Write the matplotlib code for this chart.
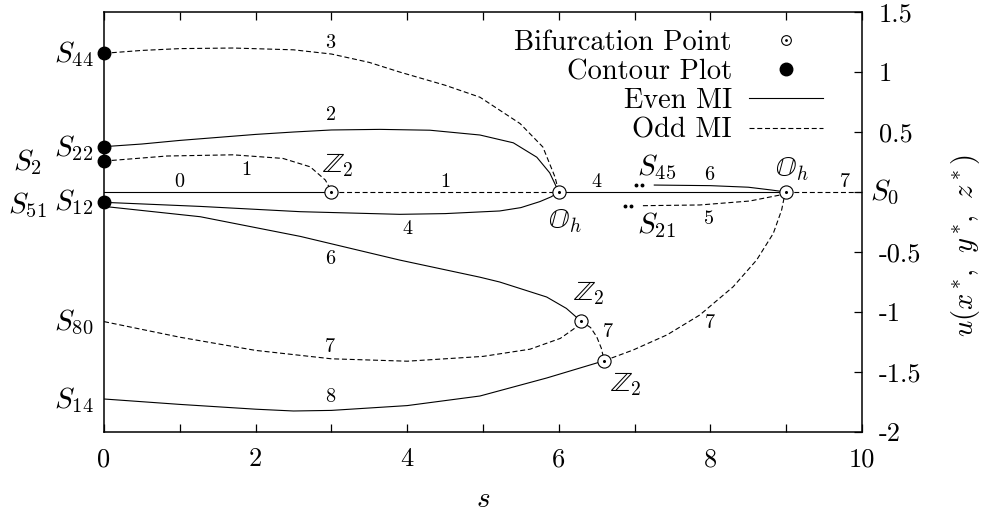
import matplotlib

matplotlib.use("Agg")
import matplotlib.pyplot as plt
from matplotlib.legend_handler import HandlerTuple
from matplotlib.lines import Line2D
from matplotlib.ticker import FixedLocator, FixedFormatter

plt.rcParams["font.family"] = ["cmr10", "DejaVu Serif"]
plt.rcParams["mathtext.fontset"] = "cm"
plt.rcParams["axes.unicode_minus"] = False

# trivial branch u = 0, split at bifurcation points
trivial_s = [0, 3, 6, 9, 10]
trivial_mi = [0, 1, 4, 7]

# branches (s, u)
b3_s = [0, 0.5, 1.0, 1.7, 2.5, 3.0, 3.5, 3.9, 4.5, 4.96, 5.49, 5.79, 5.95, 6.0]
b3_u = [1.156, 1.18, 1.195, 1.20, 1.185, 1.15, 1.08, 1.0, 0.89, 0.79, 0.57, 0.375, 0.125, 0.0]

b2_s = [0, 0.5, 1.0, 1.5, 2.0, 2.5, 3.0, 3.64, 4.3, 4.96, 5.4, 5.71, 5.88, 5.97, 6.0]
b2_u = [0.378, 0.40, 0.43, 0.455, 0.48, 0.50, 0.517, 0.522, 0.515, 0.475, 0.41, 0.29, 0.16, 0.04, 0.0]

b1_s = [0, 0.83, 1.70, 2.36, 2.72, 2.92, 2.98, 3.0]
b1_u = [0.258, 0.30, 0.31, 0.28, 0.21, 0.10, 0.03, 0.0]

b4_s = [0, 1.27, 2.59, 3.9, 4.5, 5.22, 5.5, 5.75, 5.9, 6.0]
b4_u = [-0.086, -0.12, -0.164, -0.186, -0.18, -0.158, -0.13, -0.08, -0.04, 0.0]

b6_s = [0, 1.27, 2.59, 3.9, 4.96, 5.22, 5.84, 6.1, 6.29]
b6_u = [-0.12, -0.206, -0.37, -0.567, -0.71, -0.75, -0.875, -0.97, -1.075]

b7a_s = [0, 1.0, 2.0, 3.0, 4.0, 5.0, 5.62, 6.02, 6.2, 6.29]
b7a_u = [-1.08, -1.21, -1.32, -1.39, -1.41, -1.37, -1.31, -1.22, -1.14, -1.075]

b7b_s = [6.29, 6.42, 6.50, 6.56, 6.60]
b7b_u = [-1.075, -1.13, -1.206, -1.30, -1.406]

b8_s = [0, 1.0, 2.0, 2.5, 3.0, 4.0, 4.96, 5.84, 6.60]
b8_u = [-1.725, -1.77, -1.81, -1.825, -1.82, -1.78, -1.70, -1.55, -1.406]

b7c_s = [6.60, 6.98, 7.43, 7.86, 8.30, 8.61, 8.83, 8.94, 8.98, 9.0]
b7c_u = [-1.406, -1.317, -1.19, -1.025, -0.79, -0.567, -0.345, -0.15, -0.025, 0.0]

b6r_s = [7.26, 8.0, 8.5, 8.8, 9.0]
b6r_u = [0.058, 0.053, 0.04, 0.017, 0.0]

b5_s = [7.11, 7.86, 8.52, 8.92, 9.0]
b5_u = [-0.114, -0.108, -0.075, -0.025, 0.0]

# continuation dots near S45 / S21
dots_s = [7.02, 7.10, 6.87, 6.95]
dots_u = [0.058, 0.058, -0.12, -0.12]

bif_s = [3, 6, 9, 6.29, 6.60]
bif_u = [0, 0, 0, -1.075, -1.406]

contour_u = [1.156, 0.378, 0.258, -0.08]

# labels: (s, u, text, ha)
solution_labels = [
    (-0.14, 1.146, r"$S_{44}$", "right"),
    (-0.14, 0.37, r"$S_{22}$", "right"),
    (-0.82, 0.246, r"$S_{2}$", "right"),
    (-0.14, -0.08, r"$S_{12}$", "right"),
    (-0.75, -0.115, r"$S_{51}$", "right"),
    (-0.14, -1.09, r"$S_{80}$", "right"),
    (-0.14, -1.73, r"$S_{14}$", "right"),
    (10.1, 0.0, r"$S_{0}$", "left"),
    (7.03, 0.204, r"$S_{45}$", "left"),
    (7.03, -0.275, r"$S_{21}$", "left"),
]
symmetry_labels = [
    (3.09, 0.225, r"$\mathbb{Z}_2$"),
    (6.08, -0.246, r"$\mathbb{O}_h$"),
    (9.08, 0.19, r"$\mathbb{O}_h$"),
    (6.39, -0.846, r"$\mathbb{Z}_2$"),
    (6.89, -1.604, r"$\mathbb{Z}_2$"),
]
mi_labels = [
    (0.99, 0.086, "0"), (1.88, 0.18, "1"), (2.99, 1.24, "3"), (2.99, 0.64, "2"),
    (4.5, 0.086, "1"), (4.0, -0.31, "4"), (6.5, 0.086, "4"), (7.99, 0.14, "6"),
    (7.98, -0.225, "5"), (9.78, 0.086, "7"), (2.99, -0.56, "6"), (2.98, -1.29, "7"),
    (2.98, -1.706, "8"), (6.65, -1.17, "7"), (7.99, -1.09, "7"),
]

x_ticks = list(range(0, 11))
x_ticklabels = ["0", "", "2", "", "4", "", "6", "", "8", "", "10"]
y_ticks = [-2, -1.5, -1, -0.5, 0, 0.5, 1, 1.5]
y_ticklabels = ["-2", "-1.5", "-1", "-0.5", "", "0.5", "1", "1.5"]

LW = 0.8
EVEN = dict(color="black", lw=LW, ls="-")
ODD = dict(color="black", lw=LW, ls=(0, (4.5, 2.5)))

fig = plt.figure(figsize=(9.85, 5.16), dpi=100)
ax = fig.add_axes([0.1056, 0.1628, 0.7695, 0.8139])

for i, mi in enumerate(trivial_mi):
    style = EVEN if mi % 2 == 0 else ODD
    ax.plot(trivial_s[i:i + 2], [0, 0], **style)

branches = [
    (b3_s, b3_u, 3), (b2_s, b2_u, 2), (b1_s, b1_u, 1), (b4_s, b4_u, 4),
    (b6_s, b6_u, 6), (b7a_s, b7a_u, 7), (b7b_s, b7b_u, 7), (b8_s, b8_u, 8),
    (b7c_s, b7c_u, 7), (b6r_s, b6r_u, 6), (b5_s, b5_u, 5),
]
for s, u, mi in branches:
    ax.plot(s, u, **(EVEN if mi % 2 == 0 else ODD))

ax.plot(dots_s, dots_u, ls="none", marker="o", ms=1.8, color="black")
ax.plot(bif_s, bif_u, ls="none", marker="o", ms=9.5, mfc="white", mec="black", mew=0.8, zorder=4)
ax.plot(bif_s, bif_u, ls="none", marker="o", ms=1.2, color="black", zorder=5)
ax.plot([0] * len(contour_u), contour_u, ls="none", marker="o", ms=9, color="black",
        clip_on=False, zorder=6)

for s, u, txt, ha in solution_labels:
    ax.text(s, u, txt, ha=ha, va="center", fontsize=21)
for s, u, txt in symmetry_labels:
    ax.text(s, u, txt, ha="center", va="center", fontsize=20)
for s, u, txt in mi_labels:
    ax.text(s, u, txt, ha="center", va="center", fontsize=14.5)

ax.set_xlim(0, 10)
ax.set_ylim(-2, 1.5)
ax.xaxis.set_major_locator(FixedLocator(x_ticks))
ax.xaxis.set_major_formatter(FixedFormatter(x_ticklabels))
ax.yaxis.set_major_locator(FixedLocator(y_ticks))
ax.yaxis.set_major_formatter(FixedFormatter(y_ticklabels))
ax.tick_params(axis="x", direction="in", top=True, length=6, width=0.9, labelsize=19, pad=11)
ax.tick_params(axis="y", direction="in", left=False, right=True, labelleft=False,
               labelright=True, length=6, width=0.9, labelsize=19, pad=12)
for sp in ax.spines.values():
    sp.set_linewidth(1.1)

ax.text(0.5, -0.162, r"$s$", transform=ax.transAxes, ha="center", va="center", fontsize=21)
ax.text(1.137, 0.443, r"$u(x^*\!,\;\,y^*\!,\;\,z^*)$", transform=ax.transAxes, rotation=90,
        ha="center", va="center", fontsize=20.5)

h_bif = (Line2D([], [], ls="none", marker="o", ms=7, mfc="white", mec="black", mew=0.8),
         Line2D([], [], ls="none", marker="o", ms=1.0, color="black"))
h_con = Line2D([], [], ls="none", marker="o", ms=9, color="black")
h_even = Line2D([], [], **EVEN)
h_odd = Line2D([], [], **ODD)
ax.legend([h_bif, h_con, h_even, h_odd],
          ["Bifurcation Point", "Contour Plot", "Even MI", "Odd MI"],
          handler_map={tuple: HandlerTuple(ndivide=1, pad=0)},
          loc="upper right", bbox_to_anchor=(0.9486, 0.958), frameon=False,
          markerfirst=False, fontsize=20.5, handlelength=2.6, handletextpad=0.6,
          labelspacing=0.1, borderpad=0, borderaxespad=0)

fig.savefig("out.png", dpi=100)
